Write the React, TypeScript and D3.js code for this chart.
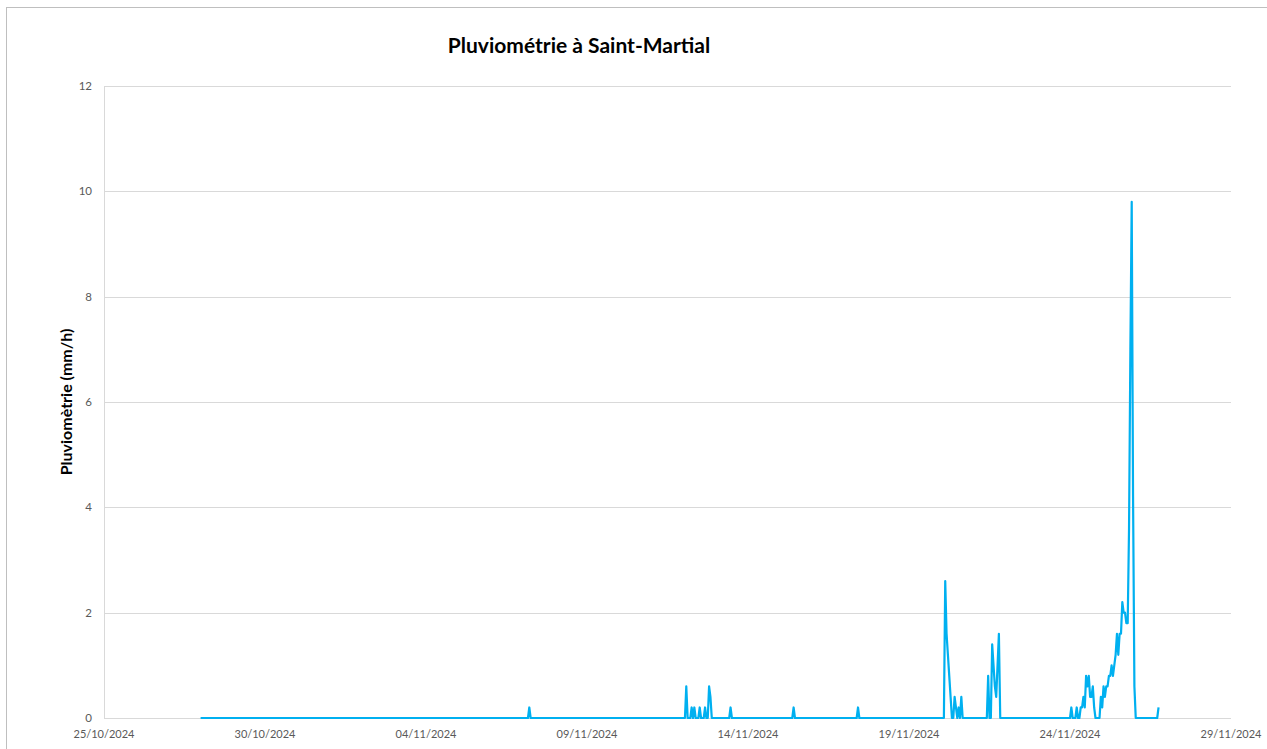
import { useEffect, useRef } from 'react'
import * as d3 from 'd3'

type Obs = [string, number]

// hourly rain readings (mm/h), only the hours around each event; the rest is 0
const baseStart: Obs[] = [['2024-10-28T00', 0]]
const nov07: Obs[] = [['2024-11-07T04', 0], ['2024-11-07T05', 0.2], ['2024-11-07T06', 0]]
const nov12: Obs[] = [
  ['2024-11-12T01', 0], ['2024-11-12T02', 0.6], ['2024-11-12T03', 0], ['2024-11-12T05', 0],
  ['2024-11-12T06', 0.2], ['2024-11-12T07', 0], ['2024-11-12T08', 0.2], ['2024-11-12T09', 0],
  ['2024-11-12T11', 0], ['2024-11-12T12', 0.2], ['2024-11-12T13', 0], ['2024-11-12T15', 0],
  ['2024-11-12T16', 0.2], ['2024-11-12T17', 0], ['2024-11-12T18', 0], ['2024-11-12T19', 0.6],
  ['2024-11-12T20', 0.4], ['2024-11-12T21', 0],
]
const nov13: Obs[] = [['2024-11-13T10', 0], ['2024-11-13T11', 0.2], ['2024-11-13T12', 0]]
const nov15: Obs[] = [['2024-11-15T09', 0], ['2024-11-15T10', 0.2], ['2024-11-15T11', 0]]
const nov17: Obs[] = [['2024-11-17T09', 0], ['2024-11-17T10', 0.2], ['2024-11-17T11', 0]]
const nov20: Obs[] = [
  ['2024-11-20T02', 0], ['2024-11-20T03', 2.6], ['2024-11-20T04', 1.6], ['2024-11-20T05', 1.2],
  ['2024-11-20T06', 0.8], ['2024-11-20T07', 0.4], ['2024-11-20T08', 0], ['2024-11-20T09', 0],
  ['2024-11-20T10', 0.4], ['2024-11-20T11', 0.2], ['2024-11-20T12', 0], ['2024-11-20T13', 0.2],
  ['2024-11-20T14', 0], ['2024-11-20T15', 0.4], ['2024-11-20T16', 0],
]
const nov21: Obs[] = [
  ['2024-11-21T10', 0], ['2024-11-21T11', 0.8], ['2024-11-21T12', 0], ['2024-11-21T13', 0],
  ['2024-11-21T14', 1.4], ['2024-11-21T15', 1.0], ['2024-11-21T16', 0.6], ['2024-11-21T17', 0.4],
  ['2024-11-21T18', 1.0], ['2024-11-21T19', 1.6], ['2024-11-21T20', 0],
]
const nov24: Obs[] = [
  ['2024-11-24T00', 0], ['2024-11-24T01', 0.2], ['2024-11-24T02', 0], ['2024-11-24T04', 0],
  ['2024-11-24T05', 0.2], ['2024-11-24T06', 0], ['2024-11-24T07', 0], ['2024-11-24T08', 0.2],
  ['2024-11-24T09', 0.2], ['2024-11-24T10', 0.4], ['2024-11-24T11', 0.2], ['2024-11-24T12', 0.8],
  ['2024-11-24T13', 0.6], ['2024-11-24T14', 0.8], ['2024-11-24T15', 0.4], ['2024-11-24T16', 0.4],
  ['2024-11-24T17', 0.6], ['2024-11-24T18', 0.2], ['2024-11-24T19', 0], ['2024-11-24T22', 0],
  ['2024-11-24T23', 0.4],
]
const nov25: Obs[] = [
  ['2024-11-25T00', 0.2], ['2024-11-25T01', 0.6], ['2024-11-25T02', 0.4], ['2024-11-25T03', 0.6],
  ['2024-11-25T04', 0.6], ['2024-11-25T05', 0.8], ['2024-11-25T06', 0.8], ['2024-11-25T07', 1.0],
  ['2024-11-25T08', 0.8], ['2024-11-25T09', 1.0], ['2024-11-25T10', 1.2], ['2024-11-25T11', 1.6],
  ['2024-11-25T12', 1.2], ['2024-11-25T13', 1.6], ['2024-11-25T14', 1.6], ['2024-11-25T15', 2.2],
  ['2024-11-25T16', 2.0], ['2024-11-25T17', 2.0], ['2024-11-25T18', 1.8], ['2024-11-25T19', 1.8],
  ['2024-11-25T20', 3.6], ['2024-11-25T21', 7.0], ['2024-11-25T22', 9.8], ['2024-11-25T23', 4.2],
]
const nov26: Obs[] = [['2024-11-26T00', 0.6], ['2024-11-26T01', 0], ['2024-11-26T17', 0], ['2024-11-26T18', 0.2]]

const xTicks = ['2024-10-25', '2024-10-30', '2024-11-04', '2024-11-09', '2024-11-14', '2024-11-19', '2024-11-24', '2024-11-29']
const yTicks = [0, 2, 4, 6, 8, 10, 12]

const W = 1267
const H = 749
const FONT = 'Lato, "Open Sans", sans-serif'

export default function App() {
  const svgRef = useRef<SVGSVGElement>(null)

  useEffect(() => {
    if (!svgRef.current) return
    const svg = d3.select(svgRef.current)
    svg.selectAll('*').remove()

    const parseHour = d3.utcParse('%Y-%m-%dT%H')
    const parseDay = d3.utcParse('%Y-%m-%d')
    const series = [...baseStart, ...nov07, ...nov12, ...nov13, ...nov15, ...nov17, ...nov20, ...nov21, ...nov24, ...nov25, ...nov26]
      .map(([t, v]) => ({ date: parseHour(t) as Date, value: v }))
    const tickDates = xTicks.map(d => parseDay(d) as Date)

    const left = 104, right = 1231, top = 86, bottom = 718

    const x = d3.scaleUtc().domain([tickDates[0], tickDates[tickDates.length - 1]]).range([left, right])
    const y = d3.scaleLinear().domain([0, 12]).range([bottom, top])

    // chart frame
    svg.append('rect')
      .attr('x', 6.5).attr('y', 7.5).attr('width', W + 10).attr('height', H + 10)
      .attr('fill', 'white').attr('stroke', '#BFBFBF').attr('stroke-width', 1)

    // gridlines
    svg.append('g')
      .selectAll('line')
      .data(yTicks.filter(d => d > 0))
      .join('line')
      .attr('x1', left).attr('x2', right)
      .attr('y1', d => Math.round(y(d)) + 0.5).attr('y2', d => Math.round(y(d)) + 0.5)
      .attr('stroke', '#D9D9D9').attr('stroke-width', 1)

    // axis lines
    svg.append('line')
      .attr('x1', left + 0.5).attr('x2', left + 0.5).attr('y1', top).attr('y2', bottom)
      .attr('stroke', '#D9D9D9')
    svg.append('line')
      .attr('x1', left).attr('x2', right).attr('y1', bottom + 0.5).attr('y2', bottom + 0.5)
      .attr('stroke', '#D9D9D9')

    // y labels
    svg.append('g')
      .selectAll('text')
      .data(yTicks)
      .join('text')
      .attr('x', 92).attr('y', d => y(d) + 4)
      .attr('text-anchor', 'end')
      .attr('font-family', FONT).attr('font-size', 11.5).attr('fill', '#595959')
      .text(d => d)

    // x labels
    const fmt = d3.utcFormat('%d/%m/%Y')
    svg.append('g')
      .selectAll('text')
      .data(tickDates)
      .join('text')
      .attr('x', d => x(d)).attr('y', 738)
      .attr('text-anchor', 'middle')
      .attr('font-family', FONT).attr('font-size', 11).attr('fill', '#595959')
      .text(d => fmt(d))

    // rain line
    const line = d3.line<{ date: Date; value: number }>()
      .x(d => x(d.date))
      .y(d => y(d.value))

    svg.append('path')
      .datum(series)
      .attr('fill', 'none')
      .attr('stroke', '#00B0F0')
      .attr('stroke-width', 2.2)
      .attr('stroke-linejoin', 'round')
      .attr('d', line)

    // titles
    svg.append('text')
      .attr('x', 579).attr('y', 53)
      .attr('text-anchor', 'middle')
      .attr('font-family', FONT).attr('font-size', 21).attr('font-weight', 'bold').attr('fill', '#000')
      .text('Pluviométrie à Saint-Martial')

    svg.append('text')
      .attr('transform', `translate(72,${(top + bottom) / 2}) rotate(-90)`)
      .attr('text-anchor', 'middle')
      .attr('font-family', FONT).attr('font-size', 16).attr('font-weight', 'bold').attr('fill', '#000')
      .text('Pluviomètrie (mm/h)')
  }, [])

  return (
    <svg
      ref={svgRef}
      width={W}
      height={H}
      style={{ position: 'absolute', left: 0, top: 0, background: 'white' }}
    />
  )
}
